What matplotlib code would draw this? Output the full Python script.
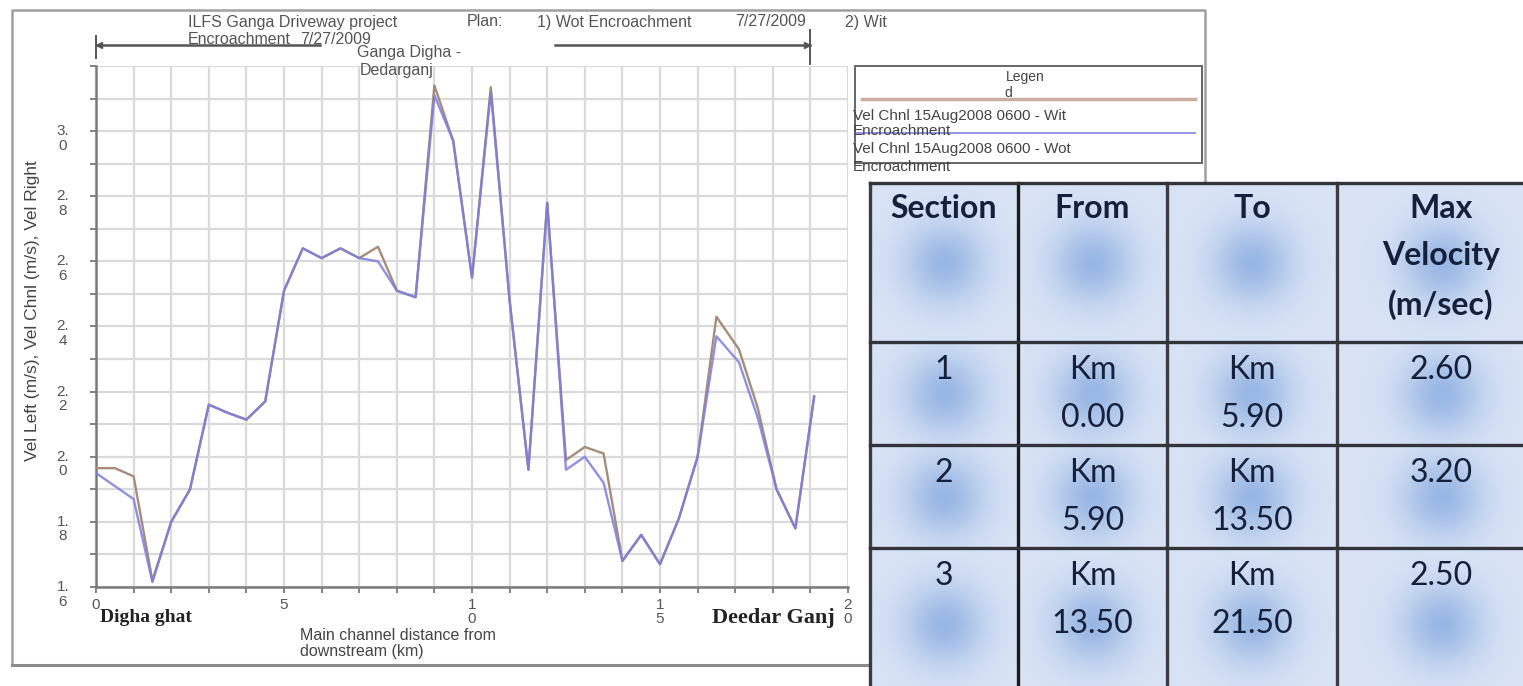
import numpy as np
import matplotlib
matplotlib.use("Agg")
import matplotlib.pyplot as plt
from matplotlib.ticker import MultipleLocator
from matplotlib.transforms import offset_copy

# River stations (km from downstream) and channel velocities (m/s)
dist_km = [0.0, 0.5, 1.0, 1.5, 2.0, 2.5, 3.0, 3.5, 4.0, 4.5, 5.0, 5.5, 6.0, 6.5,
           7.0, 7.5, 8.0, 8.5, 9.0, 9.5, 10.0, 10.5, 11.0, 11.5, 12.0, 12.5,
           13.0, 13.5, 14.0, 14.5, 15.0, 15.5, 16.0, 16.5, 17.1, 17.6, 18.1,
           18.6, 19.1]
vel_wit = [1.965, 1.965, 1.94, 1.62, 1.80, 1.90, 2.16, 2.135, 2.114, 2.17, 2.51,
           2.64, 2.61, 2.64, 2.61, 2.645, 2.51, 2.49, 3.14, 2.97, 2.55, 3.135,
           2.48, 1.96, 2.78, 1.99, 2.03, 2.01, 1.68, 1.76, 1.67, 1.81, 2.00,
           2.43, 2.33, 2.15, 1.90, 1.78, 2.185]
vel_wot = [1.95, 1.91, 1.87, 1.615, 1.80, 1.90, 2.16, 2.135, 2.114, 2.17, 2.51,
           2.64, 2.61, 2.64, 2.61, 2.60, 2.51, 2.49, 3.11, 2.97, 2.55, 3.12,
           2.48, 1.96, 2.78, 1.96, 2.00, 1.92, 1.68, 1.76, 1.67, 1.81, 2.00,
           2.37, 2.29, 2.12, 1.90, 1.78, 2.185]

x_ticks = [0, 5, 10, 15, 20]
y_ticks = [1.6, 1.8, 2.0, 2.2, 2.4, 2.6, 2.8, 3.0]

# Table data
sections = [1, 2, 3]
from_km = [0.00, 5.90, 13.50]
to_km = [5.90, 13.50, 21.50]
max_vel = [2.60, 3.20, 2.50]
headers = ["Section", "From", "To", "Max\nVelocity\n(m/sec)"]

W, H = 1523, 686
plt.rcParams['font.family'] = ['Liberation Sans', 'DejaVu Sans']
fig = plt.figure(figsize=(W / 100, H / 100), dpi=100)

# ---- main profile plot ----
ax = fig.add_axes([96 / W, (H - 587) / H, 752 / W, 521 / H])
ax.plot(dist_km, vel_wit, color='#a88c7a', lw=1.7, zorder=3)
ax.plot(dist_km, vel_wot, color='#7c7ce0', lw=1.7, alpha=0.85, zorder=4)
ax.set_xlim(0, 20)
ax.set_ylim(1.6, 3.2)
ax.xaxis.set_major_locator(MultipleLocator(5))
ax.xaxis.set_minor_locator(MultipleLocator(1))
ax.yaxis.set_major_locator(MultipleLocator(0.2))
ax.yaxis.set_minor_locator(MultipleLocator(0.1))
ax.grid(which='both', color='#dadada', lw=1.6, zorder=0)
for s in ['top', 'right']:
    ax.spines[s].set_visible(False)
for s in ['left', 'bottom']:
    ax.spines[s].set_color('#7a7a7a')
    ax.spines[s].set_linewidth(1.8)
ax.tick_params(which='both', direction='out', length=4, width=1.3, color='#7a7a7a',
               labelleft=False)
ax.set_xticks(x_ticks)
ax.set_xticklabels(['\n'.join(str(v)) for v in x_ticks], fontsize=11,
                   color='#555555', linespacing=1.0)
ax.tick_params(axis='x', pad=4)

ytrans = offset_copy(ax.get_yaxis_transform(), fig=fig, x=0, y=7, units='dots')
for v in y_ticks:
    s = f"{v:.1f}"
    ax.text(-0.044, v, s[:2] + '\n' + s[2:], transform=ytrans, ha='center', va='top',
            fontsize=11, color='#555555', linespacing=1.05)

# ---- overlay in pixel coordinates ----
ov = fig.add_axes([0, 0, 1, 1])
ov.set_xlim(0, W)
ov.set_ylim(H, 0)
ov.axis('off')

# outer frame
ov.plot([12, 12, 1205, 1205], [665, 10, 10, 183], color='#a0a0a0', lw=1.8)
ov.plot([12, 870], [665, 665], color='#8c8c8c', lw=2.2)

# y label / x label / end names
ov.text(33, 311, "Vel Left (m/s), Vel Chnl (m/s), Vel Right", rotation=90,
        ha='center', va='center', fontsize=12.5, color='#444444')
ov.text(300, 628, "Main channel distance from\ndownstream (km)", ha='left', va='top',
        fontsize=11.5, color='#444444', linespacing=1.05)
ov.text(100, 617, "Digha ghat", ha='left', va='center', fontsize=14,
        family='Liberation Serif', weight='bold', color='#222222')
ov.text(712, 618, "Deedar Ganj", ha='left', va='center', fontsize=16,
        family='Liberation Serif', weight='bold', color='#222222')

# title block
title_bits = [(188, 22, "ILFS Ganga Driveway project"), (467, 22, "Plan:"),
              (537, 22, "1) Wot Encroachment"), (735, 22, "7/27/2009"),
              (845, 22, "2) Wit"), (188, 40, "Encroachment"), (300, 40, "7/27/2009"),
              (357, 53, "Ganga Digha -"), (360, 71, "Dedarganj")]
for tx, ty, t in title_bits:
    ov.text(tx, ty, t, ha='left', va='center', fontsize=11.5, color='#555555')

# reach arrow
ov.plot([96, 320], [45, 45], color='#555555', lw=1.8)
ov.plot([555, 810], [45, 45], color='#555555', lw=1.8)
ov.plot([96, 96], [36, 58], color='#555555', lw=1.4)
ov.plot([810, 810], [30, 64], color='#555555', lw=1.4)
ov.plot([99], [45], marker='<', ms=4, color='#555555')
ov.plot([807], [45], marker='>', ms=4, color='#555555')

# legend box
ov.add_patch(plt.Rectangle((855, 66), 347, 97, fill=True, facecolor='white',
                           edgecolor='#666666', lw=1.4, zorder=2))
ov.text(1025, 77, "Legen", ha='center', va='center', fontsize=10, color='#444444', zorder=3)
ov.text(1008, 93, "d", ha='center', va='center', fontsize=10, color='#444444', zorder=3)
ov.plot([862, 1195], [99, 99], color='#c9ada3', lw=2.5, zorder=3)
ov.plot([855, 1195], [133, 133], color='#8c8ce6', lw=1.3, zorder=3)
leg_txt = [(116, "Vel Chnl 15Aug2008 0600 - Wit"), (131, "Encroachment"),
           (149, "Vel Chnl 15Aug2008 0600 - Wot"), (167, "Encroachment")]
for ty, t in leg_txt:
    ov.text(853, ty, t, ha='left', va='center', fontsize=11, color='#444444', zorder=4)

# ---- table ----
col_edges = [870, 1018, 1167, 1337, 1545]
row_edges = [183, 342, 445, 548, 700]
base = np.array([0.85, 0.89, 0.96])
blob = np.array([0.60, 0.72, 0.90])
for r in range(len(row_edges) - 1):
    for c in range(len(col_edges) - 1):
        x0, x1 = col_edges[c], col_edges[c + 1]
        y0, y1 = row_edges[r], row_edges[r + 1]
        if r == len(row_edges) - 2:
            cy = y0 + 76
        else:
            cy = (y0 + y1) / 2
        cx = (x0 + x1) / 2
        yy, xx = np.mgrid[y0:y1, x0:x1]
        w = np.exp(-(((xx - cx) / 40.0) ** 2 + ((yy - cy) / 40.0) ** 2))
        img = base[None, None, :] * (1 - w[..., None]) + blob[None, None, :] * w[..., None]
        ov.imshow(img, extent=(x0, x1, y1, y0), origin='upper', aspect='auto',
                  interpolation='bilinear', zorder=5)
ov.set_xlim(0, W)
ov.set_ylim(H, 0)
for i, xe in enumerate(col_edges[:-1]):
    ov.plot([xe, xe], [183, H], color='#1a1a1a' if i == 1 else '#3c3c44', lw=2.4, zorder=6)
for ye in row_edges[:-1]:
    ov.plot([870, W], [ye, ye], color='#33333a', lw=2.4, zorder=6)

tfont = dict(family=['Lato', 'DejaVu Sans'], color='#17203a', zorder=7)
col_cx = [(col_edges[i] + col_edges[i + 1]) / 2 for i in range(4)]
for i, h in enumerate(headers):
    ov.text(col_cx[i], 194, h, ha='center', va='top', fontsize=23, weight='bold',
            linespacing=1.75, **tfont)
for r in range(len(sections)):
    top = row_edges[r + 1] + 13
    ov.text(col_cx[0], top, str(sections[r]), ha='center', va='top', fontsize=23, **tfont)
    ov.text(col_cx[1], top, f"Km\n{from_km[r]:.2f}", ha='center', va='top', fontsize=23,
            linespacing=1.75, **tfont)
    ov.text(col_cx[2], top, f"Km\n{to_km[r]:.2f}", ha='center', va='top', fontsize=23,
            linespacing=1.75, **tfont)
    ov.text(col_cx[3], top, f"{max_vel[r]:.2f}", ha='center', va='top', fontsize=23, **tfont)

fig.savefig("out.png", dpi=100, facecolor='white')
